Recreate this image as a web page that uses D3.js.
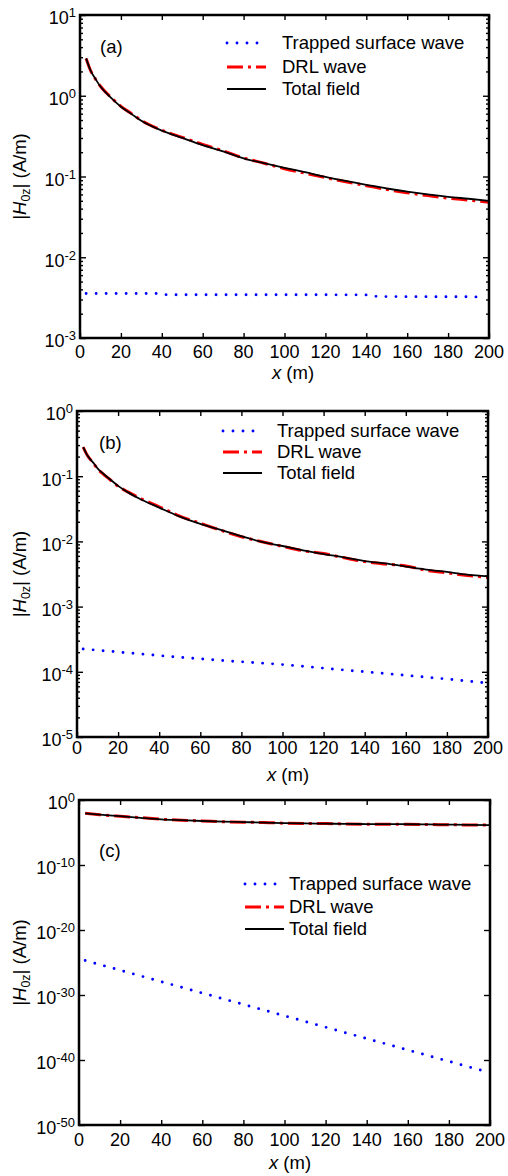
<!DOCTYPE html>
<html><head><meta charset="utf-8">
<script src="https://cdn.jsdelivr.net/npm/d3@7"></script>
<style>
body{margin:0;background:#fff}
svg{display:block}
text{font-family:"Liberation Sans",Arial,sans-serif;fill:#000}
</style>
</head><body>
<svg id="chart" width="508" height="1176"></svg>
<script>
// ---------- data ----------
const xTicks = [0,20,40,60,80,100,120,140,160,180,200];
const legendLabels = ["Trapped surface wave","DRL wave","Total field"];
const panelLabels = ["(a)","(b)","(c)"];

const xAB = [3,5,8,10,13,16,20,25,30,40,50,60,70,80,90,100,110,120,130,140,150,160,170,180,190,200];
const totalA = [2.9,2.1,1.55,1.3,1.07,0.9,0.73,0.6,0.49,0.37,0.30,0.245,0.205,0.168,0.146,0.128,0.113,0.099,0.088,0.079,0.071,0.065,0.060,0.056,0.053,0.050];
const drlA   = [2.9,2.1,1.55,1.31,1.08,0.91,0.74,0.605,0.495,0.375,0.305,0.25,0.208,0.17,0.146,0.125,0.11,0.097,0.086,0.077,0.069,0.063,0.058,0.054,0.051,0.048];
const trapXA = [3,38,42,140,146,192,198];
const trapA  = [3.56e-3,3.55e-3,3.44e-3,3.42e-3,3.26e-3,3.24e-3,3.12e-3];

const totalB = [0.28,0.21,0.16,0.132,0.108,0.09,0.071,0.056,0.046,0.033,0.024,0.0185,0.015,0.012,0.0098,0.0085,0.0073,0.0064,0.0057,0.0050,0.0046,0.0041,0.0037,0.0034,0.0031,0.0029];
const drlB   = [0.28,0.21,0.158,0.13,0.106,0.089,0.070,0.057,0.047,0.034,0.0245,0.019,0.0148,0.0118,0.0099,0.0084,0.0072,0.0065,0.0056,0.0049,0.0045,0.0042,0.0036,0.0033,0.0030,0.0028];
const trapXB = [3,25,50,75,100,125,150,175,198];
const trapB  = [2.24e-4,1.95e-4,1.67e-4,1.46e-4,1.29e-4,1.10e-4,9.4e-5,8.0e-5,6.8e-5];

const xC = [3,10,20,30,40,50,60,70,80,90,100,110,120,130,140,150,160,170,180,190,200];
const totalC = [8.9e-3,5.6e-3,3.2e-3,1.8e-3,1.07e-3,7.9e-4,5.9e-4,4.7e-4,4.0e-4,3.4e-4,2.8e-4,2.5e-4,2.3e-4,2.1e-4,2.0e-4,1.9e-4,1.86e-4,1.74e-4,1.6e-4,1.48e-4,1.4e-4];
const drlC   = [8.9e-3,5.4e-3,3.1e-3,1.9e-3,1.1e-3,7.6e-4,6.1e-4,4.6e-4,3.8e-4,3.5e-4,2.7e-4,2.4e-4,2.35e-4,2.0e-4,1.9e-4,1.85e-4,1.8e-4,1.7e-4,1.55e-4,1.45e-4,1.35e-4];
const trapXC = [3,50,100,150,197];
const trapC  = [2.0e-25,1.5e-29,6.3e-34,2.6e-38,2.0e-42];

const yExpA = [-3,-2,-1,0,1];
const yExpB = [-5,-4,-3,-2,-1,0];
const yExpC = [-50,-40,-30,-20,-10,0];

// ---------- layout ----------
const panels = [
  {label:panelLabels[0], xs:xAB, total:totalA, drl:drlA, trapX:trapXA, trap:trapA, yExp:yExpA, minor:true,
   box:{l:80,r:489,t:15,b:338}, leg:{x0:227,x1:266,tx:282,ys:[43,67,89]}, lab:{x:100,y:47}, xlabX:293, xlabY:373, xtickY:352},
  {label:panelLabels[1], xs:xAB, total:totalB, drl:drlB, trapX:trapXB, trap:trapB, yExp:yExpB, minor:true,
   box:{l:77,r:488,t:411,b:737}, leg:{x0:223,x1:262,tx:277,ys:[431,452,473]}, lab:{x:99,y:443}, xlabX:288, xlabY:775, xtickY:748},
  {label:panelLabels[2], xs:xC, total:totalC, drl:drlC, trapX:trapXC, trap:trapC, yExp:yExpC, minor:false,
   box:{l:79,r:490,t:800,b:1125}, leg:{x0:245,x1:284,tx:289,ys:[884,907,929]}, lab:{x:99,y:851}, xlabX:290, xlabY:1163, xtickY:1140}
];

const svg = d3.select("#chart");
const BLUE = "#0000ff", RED = "#ff0000";
const styles = [
  {stroke:BLUE, w:2.9, dash:"0,10", cap:"round"},
  {stroke:RED, w:3, dash:"16,5,3,5", cap:"butt"},
  {stroke:"#000", w:1.8, dash:null, cap:"butt"}
];

panels.forEach(p => {
  const {l,r,t,b} = p.box;
  const x = d3.scaleLinear().domain([0,200]).range([l,r]);
  const lo = d3.min(p.yExp), hi = d3.max(p.yExp);
  const y = d3.scaleLog().domain([10**lo, 10**hi]).range([b,t]);
  const g = svg.append("g");

  const majors = p.yExp.map(e => 10**e);
  const minors = [];
  if (p.minor) for (let e = lo; e < hi; e++) for (let k = 2; k <= 9; k++) minors.push(k*10**e);

  // ticks (inward)
  const addAxis = (axis, tr) => {
    const a = g.append("g").attr("transform", tr).call(axis);
    a.select(".domain").remove();
    a.selectAll("line").attr("stroke","#000").attr("stroke-width",1.4);
  };
  addAxis(d3.axisBottom(x).tickValues(xTicks).tickSize(-5).tickFormat(""), `translate(0,${b})`);
  addAxis(d3.axisTop(x).tickValues(xTicks).tickSize(-5).tickFormat(""), `translate(0,${t})`);
  addAxis(d3.axisLeft(y).tickValues(majors).tickSize(-6).tickFormat(""), `translate(${l},0)`);
  addAxis(d3.axisRight(y).tickValues(majors).tickSize(-6).tickFormat(""), `translate(${r},0)`);
  if (minors.length) {
    addAxis(d3.axisLeft(y).tickValues(minors).tickSize(-3).tickFormat(""), `translate(${l},0)`);
    addAxis(d3.axisRight(y).tickValues(minors).tickSize(-3).tickFormat(""), `translate(${r},0)`);
  }

  // curves
  const line = d3.line().curve(d3.curveMonotoneX);
  const series = [
    p.trapX.map((xv,i) => [x(xv), y(p.trap[i])]),
    p.xs.map((xv,i) => [x(xv), y(p.drl[i])]),
    p.xs.map((xv,i) => [x(xv), y(p.total[i])])
  ];
  series.forEach((pts, i) => {
    const s = styles[i];
    g.append("path").attr("d", line(pts)).attr("fill","none")
      .attr("stroke", s.stroke).attr("stroke-width", s.w)
      .attr("stroke-dasharray", s.dash).attr("stroke-linecap", s.cap)
      .attr("stroke-linejoin","round");
  });

  // frame
  g.append("rect").attr("x",l).attr("y",t).attr("width",r-l).attr("height",b-t)
    .attr("fill","none").attr("stroke","#000").attr("stroke-width",2.5);

  // x tick labels
  g.selectAll("text.xt").data(xTicks).join("text").attr("class","xt")
    .attr("x", d => x(d)).attr("y", p.xtickY).attr("dy","0.35em")
    .attr("text-anchor","middle").style("font-size","18px").text(d => d);

  // y tick labels
  g.selectAll("text.yt").data(p.yExp).join("text").attr("class","yt")
    .attr("x", l-4).attr("y", d => y(10**d)+3).attr("dy","0.35em")
    .attr("text-anchor","end").style("font-size","18px").text("10")
    .append("tspan").attr("dy",-7).style("font-size","13px").text(d => String(d));

  // x axis label
  const xl = g.append("text").attr("x", p.xlabX).attr("y", p.xlabY).attr("dy","0.35em")
    .attr("text-anchor","middle").style("font-size","18.5px");
  xl.append("tspan").style("font-style","italic").text("x");
  xl.append("tspan").text(" (m)");

  // y axis label
  const yl = g.append("text").attr("transform", `translate(20,${(t+b)/2}) rotate(-90)`)
    .attr("dy","0.35em").attr("text-anchor","middle").style("font-size","18.5px");
  yl.append("tspan").text("|");
  yl.append("tspan").style("font-style","italic").text("H");
  yl.append("tspan").attr("dy",4).style("font-size","12.5px").text("0z");
  yl.append("tspan").attr("dy",-4).text("| (A/m)");

  // panel label
  g.append("text").attr("x", p.lab.x).attr("y", p.lab.y).attr("dy","0.35em")
    .style("font-size","18.5px").text(p.label);

  // legend
  legendLabels.forEach((lab, i) => {
    const s = styles[i], yy = p.leg.ys[i];
    g.append("line").attr("x1", p.leg.x0).attr("x2", p.leg.x1).attr("y1", yy).attr("y2", yy)
      .attr("stroke", s.stroke).attr("stroke-width", s.w)
      .attr("stroke-dasharray", s.dash).attr("stroke-linecap", s.cap);
    g.append("text").attr("x", p.leg.tx).attr("y", yy).attr("dy","0.35em")
      .style("font-size","18.5px").text(lab);
  });
});
</script>
</body></html>
